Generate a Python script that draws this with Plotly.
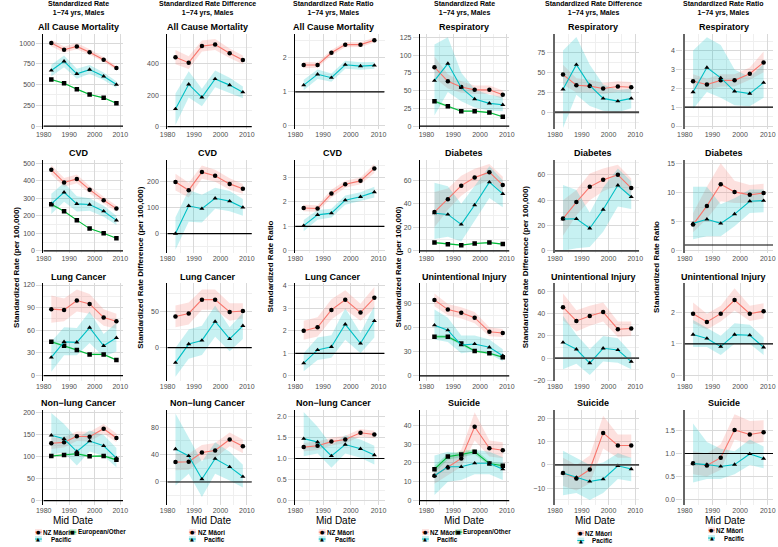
import plotly.graph_objects as go

# ---------------- data ----------------
MID_DATE = [1983, 1988, 1993, 1998, 2003.5, 2008.5]
X_TICKS = [1980, 1990, 2000, 2010]

GROUP_NAMES = ["NZ Māori", "European/Other", "Pacific"]
GROUP_COLORS = ["#F8766D", "#00BA38", "#00BFC4"]
GROUP_BANDS = ["rgba(248,118,109,0.22)", "rgba(0,186,56,0.22)", "rgba(0,191,196,0.22)"]
GROUP_SYMBOLS = ["circle", "square", "triangle-up"]
GROUP_GLYPHS = ["●", "■", "▲"]

COLUMN_HEADERS = ["Standardized Rate", "Standardized Rate Difference", "Standardized Rate Ratio"] * 2
HEADER_SUB = "1−74 yrs, Males"
Y_TITLES = ["Standardized Rate (per 100,000)", "Standardized Rate Difference (per 100,000)",
            "Standardized Rate Ratio"] * 2
ROW_CAUSES = [["All Cause Mortality", "Respiratory"], ["CVD", "Diabetes"],
              ["Lung Cancer", "Unintentional Injury"], ["Non−lung Cancer", "Suicide"]]
X_TITLE = "Mid Date"

# All cause mortality
AC_RATE_MAO = [1000, 920, 960, 890, 800, 700]
AC_RATE_MAO_LO = [960, 885, 925, 860, 775, 675]
AC_RATE_MAO_HI = [1040, 960, 1000, 925, 830, 725]
AC_RATE_PAC = [670, 780, 630, 680, 600, 500]
AC_RATE_PAC_LO = [600, 710, 570, 630, 555, 460]
AC_RATE_PAC_HI = [740, 850, 690, 735, 645, 540]
AC_RATE_EUR = [560, 515, 445, 380, 340, 275]
AC_RATE_EUR_LO = [550, 507, 438, 374, 334, 270]
AC_RATE_EUR_HI = [570, 523, 452, 386, 346, 280]
AC_DIFF_MAO = [440, 405, 510, 520, 465, 422]
AC_DIFF_MAO_LO = [395, 365, 475, 485, 435, 395]
AC_DIFF_MAO_HI = [485, 445, 545, 555, 495, 450]
AC_DIFF_PAC = [112, 268, 186, 302, 263, 218]
AC_DIFF_PAC_LO = [10, 185, 130, 250, 215, 180]
AC_DIFF_PAC_HI = [210, 350, 240, 355, 310, 255]
AC_RATIO_MAO = [1.79, 1.79, 2.15, 2.39, 2.39, 2.52]
AC_RATIO_MAO_LO = [1.70, 1.71, 2.07, 2.31, 2.32, 2.45]
AC_RATIO_MAO_HI = [1.88, 1.87, 2.23, 2.47, 2.46, 2.60]
AC_RATIO_PAC = [1.20, 1.52, 1.42, 1.80, 1.76, 1.78]
AC_RATIO_PAC_LO = [1.05, 1.38, 1.30, 1.68, 1.65, 1.68]
AC_RATIO_PAC_HI = [1.36, 1.66, 1.54, 1.92, 1.87, 1.88]

# Respiratory
RESP_RATE_MAO = [83, 63, 55, 51, 51, 44]
RESP_RATE_MAO_LO = [68, 53, 47, 45, 45, 38]
RESP_RATE_MAO_HI = [98, 73, 63, 57, 57, 50]
RESP_RATE_PAC = [64, 88, 54, 38, 32, 30]
RESP_RATE_PAC_LO = [15, 48, 35, 26, 22, 21]
RESP_RATE_PAC_HI = [115, 125, 75, 52, 44, 41]
RESP_RATE_EUR = [35, 28, 21, 21, 19, 13]
RESP_RATE_EUR_LO = [33, 26.5, 20, 20, 18, 12]
RESP_RATE_EUR_HI = [37, 29.5, 22, 22, 20, 14]
RESP_DIFF_MAO = [47.5, 34, 33, 30, 32.5, 31.5]
RESP_DIFF_MAO_LO = [35, 25, 25, 23, 26, 25]
RESP_DIFF_MAO_HI = [60, 43, 41, 37, 39, 38]
RESP_DIFF_PAC = [29, 60, 34, 17.5, 14, 17.5]
RESP_DIFF_PAC_LO = [-20, 22, 8, 2, 0, 5]
RESP_DIFF_PAC_HI = [78, 95, 60, 35, 28, 30]
RESP_RATIO_MAO = [2.37, 2.20, 2.42, 2.42, 2.77, 3.37]
RESP_RATIO_MAO_LO = [2.00, 1.90, 2.10, 2.10, 2.45, 2.85]
RESP_RATIO_MAO_HI = [2.75, 2.50, 2.75, 2.75, 3.10, 3.95]
RESP_RATIO_PAC = [1.80, 3.10, 2.55, 1.84, 1.72, 2.30]
RESP_RATIO_PAC_LO = [0.90, 1.80, 1.50, 1.10, 1.05, 1.50]
RESP_RATIO_PAC_HI = [4.00, 4.70, 4.30, 3.00, 2.60, 3.30]

# CVD
CVD_RATE_MAO = [462, 390, 410, 349, 289, 241]
CVD_RATE_MAO_LO = [435, 365, 385, 328, 270, 224]
CVD_RATE_MAO_HI = [490, 415, 435, 370, 308, 258]
CVD_RATE_PAC = [268, 334, 268, 264, 226, 174]
CVD_RATE_PAC_LO = [210, 280, 225, 228, 195, 148]
CVD_RATE_PAC_HI = [326, 388, 311, 300, 257, 200]
CVD_RATE_EUR = [266, 226, 175, 127, 100, 72]
CVD_RATE_EUR_LO = [261, 222, 172, 125, 98, 70]
CVD_RATE_EUR_HI = [271, 230, 178, 129, 102, 74]
CVD_DIFF_MAO = [197, 166, 235, 221, 190, 171]
CVD_DIFF_MAO_LO = [165, 138, 210, 198, 168, 152]
CVD_DIFF_MAO_HI = [229, 194, 260, 244, 212, 190]
CVD_DIFF_PAC = [0, 106, 95, 135, 124, 100]
CVD_DIFF_PAC_LO = [-62, 45, 42, 95, 85, 68]
CVD_DIFF_PAC_HI = [62, 167, 148, 175, 163, 132]
CVD_RATIO_MAO = [1.75, 1.73, 2.34, 2.72, 2.86, 3.37]
CVD_RATIO_MAO_LO = [1.62, 1.60, 2.18, 2.58, 2.72, 3.18]
CVD_RATIO_MAO_HI = [1.88, 1.86, 2.50, 2.86, 3.00, 3.56]
CVD_RATIO_PAC = [1.03, 1.47, 1.54, 2.07, 2.21, 2.40]
CVD_RATIO_PAC_LO = [0.80, 1.27, 1.36, 1.88, 2.03, 2.18]
CVD_RATIO_PAC_HI = [1.26, 1.67, 1.72, 2.26, 2.39, 2.62]

# Diabetes
DIAB_RATE_MAO = [33, 44, 55.5, 62.5, 67, 56]
DIAB_RATE_MAO_LO = [20, 35, 47, 55, 60, 49]
DIAB_RATE_MAO_HI = [50, 53, 64, 70, 74, 63]
DIAB_RATE_PAC = [32, 31, 22.5, 39, 58.5, 48.5]
DIAB_RATE_PAC_LO = [10, 12, 8, 25, 45, 37]
DIAB_RATE_PAC_HI = [58, 55, 40, 55, 72, 60]
DIAB_RATE_EUR = [7, 5.6, 4.8, 6.2, 7, 5.7]
DIAB_RATE_EUR_LO = [6.3, 5.0, 4.3, 5.7, 6.5, 5.2]
DIAB_RATE_EUR_HI = [7.7, 6.2, 5.3, 6.7, 7.5, 6.2]
DIAB_DIFF_MAO = [25.5, 38.5, 50.5, 56, 60, 49.5]
DIAB_DIFF_MAO_LO = [12, 28, 40, 47, 52, 42]
DIAB_DIFF_MAO_HI = [40, 48, 61, 65, 68, 57]
DIAB_DIFF_PAC = [25, 25.3, 17.8, 32.6, 51.7, 42.5]
DIAB_DIFF_PAC_LO = [0, 2, 3, 15, 35, 33]
DIAB_DIFF_PAC_HI = [52, 48, 30, 50, 65, 55]
DIAB_RATIO_MAO = [4.5, 7.7, 11.4, 10.1, 9.6, 9.9]
DIAB_RATIO_MAO_LO = [3.2, 5.5, 8.5, 8.2, 8.2, 8.5]
DIAB_RATIO_MAO_HI = [6.5, 11.0, 15.0, 12.0, 11.3, 11.5]
DIAB_RATIO_PAC = [4.7, 5.4, 4.7, 6.3, 8.5, 8.6]
DIAB_RATIO_PAC_LO = [2.0, 2.5, 2.5, 4.2, 6.5, 6.6]
DIAB_RATIO_PAC_HI = [11.0, 11.0, 8.0, 9.0, 10.5, 10.5]

# Lung cancer
LUNG_RATE_MAO = [88, 87, 99.5, 95, 77, 72]
LUNG_RATE_MAO_LO = [70, 72, 85, 82, 66, 62]
LUNG_RATE_MAO_HI = [106, 102, 114, 108, 88, 82]
LUNG_RATE_PAC = [24, 44.7, 44, 63.6, 39.5, 50]
LUNG_RATE_PAC_LO = [5, 27, 27, 43, 25, 32]
LUNG_RATE_PAC_HI = [45, 64, 63, 85, 55, 70]
LUNG_RATE_EUR = [44.7, 39.5, 33.8, 28, 28, 20.6]
LUNG_RATE_EUR_LO = [43, 38, 32.5, 27, 27, 19.6]
LUNG_RATE_EUR_HI = [46.4, 41, 35, 29, 29, 21.6]
LUNG_DIFF_MAO = [43, 47, 66, 66, 49, 50.5]
LUNG_DIFF_MAO_LO = [28, 32, 52, 52, 37, 40]
LUNG_DIFF_MAO_HI = [58, 62, 80, 80, 61, 61]
LUNG_DIFF_PAC = [-20.5, 5, 10, 36, 12, 30]
LUNG_DIFF_PAC_LO = [-40, -15, -10, 15, -5, 12]
LUNG_DIFF_PAC_HI = [0, 25, 30, 58, 28, 48]
LUNG_RATIO_MAO = [2.00, 2.16, 2.93, 3.38, 2.81, 3.47]
LUNG_RATIO_MAO_LO = [1.60, 1.75, 2.50, 2.95, 2.45, 3.00]
LUNG_RATIO_MAO_HI = [2.45, 2.60, 3.40, 3.80, 3.20, 3.95]
LUNG_RATIO_PAC = [0.56, 1.15, 1.29, 2.29, 1.44, 2.44]
LUNG_RATIO_PAC_LO = [0.20, 0.70, 0.80, 1.60, 1.00, 1.70]
LUNG_RATIO_PAC_HI = [1.00, 1.70, 1.80, 3.00, 1.90, 3.10]

# Unintentional injury
UNINT_RATE_MAO = [94, 82, 78, 72, 54.5, 53]
UNINT_RATE_MAO_LO = [86, 75, 71, 65, 49, 48]
UNINT_RATE_MAO_HI = [102, 89, 85, 79, 60, 58]
UNINT_RATE_PAC = [62.7, 56.5, 38, 39.5, 35.3, 25]
UNINT_RATE_PAC_LO = [45, 42, 28, 30, 27, 18]
UNINT_RATE_PAC_HI = [82, 72, 50, 50, 45, 33]
UNINT_RATE_EUR = [48.4, 48.4, 40, 30.7, 28, 23]
UNINT_RATE_EUR_LO = [46, 46.5, 38.3, 29.3, 26.7, 21.8]
UNINT_RATE_EUR_HI = [50.8, 50.3, 41.7, 32.1, 29.3, 24.2]
UNINT_DIFF_MAO = [45.8, 33.4, 37.9, 41.4, 26, 26.6]
UNINT_DIFF_MAO_LO = [34, 24, 29, 33, 19, 20]
UNINT_DIFF_MAO_HI = [58, 43, 47, 50, 33, 33]
UNINT_DIFF_PAC = [14.2, 8, -4.4, 8.9, 7.4, -3]
UNINT_DIFF_PAC_LO = [-10, -5, -15, -3, -4, -10]
UNINT_DIFF_PAC_HI = [38, 21, 8, 20, 18, 5]
UNINT_RATIO_MAO = [1.95, 1.69, 1.95, 2.38, 1.95, 2.03]
UNINT_RATIO_MAO_LO = [1.65, 1.45, 1.70, 2.05, 1.72, 1.80]
UNINT_RATIO_MAO_HI = [2.30, 1.95, 2.20, 2.75, 2.20, 2.28]
UNINT_RATIO_PAC = [1.29, 1.17, 0.91, 1.29, 1.27, 0.89]
UNINT_RATIO_PAC_LO = [0.90, 0.90, 0.65, 1.00, 1.00, 0.65]
UNINT_RATIO_PAC_HI = [1.75, 1.50, 1.25, 1.65, 1.60, 1.20]

# Non-lung cancer
NLC_RATE_MAO = [131, 133, 147, 146, 164, 143]
NLC_RATE_MAO_LO = [118, 121, 136, 135, 153, 133]
NLC_RATE_MAO_HI = [144, 145, 158, 157, 175, 153]
NLC_RATE_PAC = [149, 141, 112, 136, 125, 97]
NLC_RATE_PAC_LO = [105, 110, 80, 112, 102, 76]
NLC_RATE_PAC_HI = [200, 175, 142, 160, 150, 120]
NLC_RATE_EUR = [102, 104, 107, 101, 102, 93]
NLC_RATE_EUR_LO = [99.5, 101.5, 104.5, 99, 100, 91]
NLC_RATE_EUR_HI = [104.5, 106.5, 109.5, 103, 104, 95]
NLC_DIFF_MAO = [29, 29.5, 43, 46, 62, 52]
NLC_DIFF_MAO_LO = [17, 18, 32, 35, 52, 42]
NLC_DIFF_MAO_HI = [41, 41, 54, 57, 72, 62]
NLC_DIFF_PAC = [48, 38, 4.3, 34, 22, 7.7]
NLC_DIFF_PAC_LO = [-5, 12, -22, 12, 2, -8]
NLC_DIFF_PAC_HI = [100, 64, 30, 58, 44, 25]
NLC_RATIO_MAO = [1.27, 1.30, 1.40, 1.45, 1.61, 1.57]
NLC_RATIO_MAO_LO = [1.17, 1.20, 1.31, 1.36, 1.52, 1.48]
NLC_RATIO_MAO_HI = [1.37, 1.40, 1.49, 1.54, 1.70, 1.66]
NLC_RATIO_PAC = [1.47, 1.39, 1.06, 1.33, 1.23, 1.08]
NLC_RATIO_PAC_LO = [1.05, 1.12, 0.78, 1.12, 1.02, 0.86]
NLC_RATIO_PAC_HI = [2.10, 1.75, 1.32, 1.55, 1.45, 1.30]

# Suicide
SUIC_RATE_MAO = [13.2, 17.6, 22.4, 39.3, 27.8, 26.8]
SUIC_RATE_MAO_LO = [9, 13.5, 18, 32, 23.5, 22.5]
SUIC_RATE_MAO_HI = [17.5, 22, 27, 47, 32, 31]
SUIC_RATE_PAC = [13.2, 18, 18, 19.9, 19.9, 16.7]
SUIC_RATE_PAC_LO = [3, 10, 11, 14, 14, 11]
SUIC_RATE_PAC_HI = [24, 26, 25, 27, 26, 23]
SUIC_RATE_EUR = [16.7, 23.4, 24.5, 26, 19.7, 18.5]
SUIC_RATE_EUR_LO = [14.8, 21.7, 22.9, 24.5, 18.5, 17.3]
SUIC_RATE_EUR_HI = [18.6, 25.1, 26.1, 27.5, 20.9, 19.7]
SUIC_DIFF_MAO = [-3.5, -5.8, -2, 13.7, 8.3, 8.3]
SUIC_DIFF_MAO_LO = [-9, -11, -8, 7, 3, 3]
SUIC_DIFF_MAO_HI = [3, 0, 4, 21, 13, 13]
SUIC_DIFF_PAC = [-3.5, -5.4, -7.1, -6.1, -0.4, -1.8]
SUIC_DIFF_PAC_LO = [-13, -12, -15, -12, -6, -7]
SUIC_DIFF_PAC_HI = [6, 3, 0, 1, 5, 3]
SUIC_RATIO_MAO = [0.79, 0.74, 0.91, 1.51, 1.41, 1.46]
SUIC_RATIO_MAO_LO = [0.55, 0.50, 0.65, 1.30, 1.20, 1.25]
SUIC_RATIO_MAO_HI = [1.05, 1.00, 1.20, 1.85, 1.70, 1.72]
SUIC_RATIO_PAC = [0.78, 0.76, 0.72, 0.76, 0.99, 0.89]
SUIC_RATIO_PAC_LO = [0.37, 0.45, 0.45, 0.55, 0.75, 0.68]
SUIC_RATIO_PAC_HI = [1.65, 1.25, 1.10, 1.05, 1.30, 1.15]

# ---------------- assemble panels ----------------
def s3(m, mlo, mhi, e, elo, ehi, p, plo, phi):
    return [(0, m, mlo, mhi), (1, e, elo, ehi), (2, p, plo, phi)]


def s2(m, mlo, mhi, p, plo, phi):
    return [(0, m, mlo, mhi), (2, p, plo, phi)]


PANELS = [
    [s3(AC_RATE_MAO, AC_RATE_MAO_LO, AC_RATE_MAO_HI, AC_RATE_EUR, AC_RATE_EUR_LO, AC_RATE_EUR_HI, AC_RATE_PAC, AC_RATE_PAC_LO, AC_RATE_PAC_HI),
     s2(AC_DIFF_MAO, AC_DIFF_MAO_LO, AC_DIFF_MAO_HI, AC_DIFF_PAC, AC_DIFF_PAC_LO, AC_DIFF_PAC_HI),
     s2(AC_RATIO_MAO, AC_RATIO_MAO_LO, AC_RATIO_MAO_HI, AC_RATIO_PAC, AC_RATIO_PAC_LO, AC_RATIO_PAC_HI),
     s3(RESP_RATE_MAO, RESP_RATE_MAO_LO, RESP_RATE_MAO_HI, RESP_RATE_EUR, RESP_RATE_EUR_LO, RESP_RATE_EUR_HI, RESP_RATE_PAC, RESP_RATE_PAC_LO, RESP_RATE_PAC_HI),
     s2(RESP_DIFF_MAO, RESP_DIFF_MAO_LO, RESP_DIFF_MAO_HI, RESP_DIFF_PAC, RESP_DIFF_PAC_LO, RESP_DIFF_PAC_HI),
     s2(RESP_RATIO_MAO, RESP_RATIO_MAO_LO, RESP_RATIO_MAO_HI, RESP_RATIO_PAC, RESP_RATIO_PAC_LO, RESP_RATIO_PAC_HI)],
    [s3(CVD_RATE_MAO, CVD_RATE_MAO_LO, CVD_RATE_MAO_HI, CVD_RATE_EUR, CVD_RATE_EUR_LO, CVD_RATE_EUR_HI, CVD_RATE_PAC, CVD_RATE_PAC_LO, CVD_RATE_PAC_HI),
     s2(CVD_DIFF_MAO, CVD_DIFF_MAO_LO, CVD_DIFF_MAO_HI, CVD_DIFF_PAC, CVD_DIFF_PAC_LO, CVD_DIFF_PAC_HI),
     s2(CVD_RATIO_MAO, CVD_RATIO_MAO_LO, CVD_RATIO_MAO_HI, CVD_RATIO_PAC, CVD_RATIO_PAC_LO, CVD_RATIO_PAC_HI),
     s3(DIAB_RATE_MAO, DIAB_RATE_MAO_LO, DIAB_RATE_MAO_HI, DIAB_RATE_EUR, DIAB_RATE_EUR_LO, DIAB_RATE_EUR_HI, DIAB_RATE_PAC, DIAB_RATE_PAC_LO, DIAB_RATE_PAC_HI),
     s2(DIAB_DIFF_MAO, DIAB_DIFF_MAO_LO, DIAB_DIFF_MAO_HI, DIAB_DIFF_PAC, DIAB_DIFF_PAC_LO, DIAB_DIFF_PAC_HI),
     s2(DIAB_RATIO_MAO, DIAB_RATIO_MAO_LO, DIAB_RATIO_MAO_HI, DIAB_RATIO_PAC, DIAB_RATIO_PAC_LO, DIAB_RATIO_PAC_HI)],
    [s3(LUNG_RATE_MAO, LUNG_RATE_MAO_LO, LUNG_RATE_MAO_HI, LUNG_RATE_EUR, LUNG_RATE_EUR_LO, LUNG_RATE_EUR_HI, LUNG_RATE_PAC, LUNG_RATE_PAC_LO, LUNG_RATE_PAC_HI),
     s2(LUNG_DIFF_MAO, LUNG_DIFF_MAO_LO, LUNG_DIFF_MAO_HI, LUNG_DIFF_PAC, LUNG_DIFF_PAC_LO, LUNG_DIFF_PAC_HI),
     s2(LUNG_RATIO_MAO, LUNG_RATIO_MAO_LO, LUNG_RATIO_MAO_HI, LUNG_RATIO_PAC, LUNG_RATIO_PAC_LO, LUNG_RATIO_PAC_HI),
     s3(UNINT_RATE_MAO, UNINT_RATE_MAO_LO, UNINT_RATE_MAO_HI, UNINT_RATE_EUR, UNINT_RATE_EUR_LO, UNINT_RATE_EUR_HI, UNINT_RATE_PAC, UNINT_RATE_PAC_LO, UNINT_RATE_PAC_HI),
     s2(UNINT_DIFF_MAO, UNINT_DIFF_MAO_LO, UNINT_DIFF_MAO_HI, UNINT_DIFF_PAC, UNINT_DIFF_PAC_LO, UNINT_DIFF_PAC_HI),
     s2(UNINT_RATIO_MAO, UNINT_RATIO_MAO_LO, UNINT_RATIO_MAO_HI, UNINT_RATIO_PAC, UNINT_RATIO_PAC_LO, UNINT_RATIO_PAC_HI)],
    [s3(NLC_RATE_MAO, NLC_RATE_MAO_LO, NLC_RATE_MAO_HI, NLC_RATE_EUR, NLC_RATE_EUR_LO, NLC_RATE_EUR_HI, NLC_RATE_PAC, NLC_RATE_PAC_LO, NLC_RATE_PAC_HI),
     s2(NLC_DIFF_MAO, NLC_DIFF_MAO_LO, NLC_DIFF_MAO_HI, NLC_DIFF_PAC, NLC_DIFF_PAC_LO, NLC_DIFF_PAC_HI),
     s2(NLC_RATIO_MAO, NLC_RATIO_MAO_LO, NLC_RATIO_MAO_HI, NLC_RATIO_PAC, NLC_RATIO_PAC_LO, NLC_RATIO_PAC_HI),
     s3(SUIC_RATE_MAO, SUIC_RATE_MAO_LO, SUIC_RATE_MAO_HI, SUIC_RATE_EUR, SUIC_RATE_EUR_LO, SUIC_RATE_EUR_HI, SUIC_RATE_PAC, SUIC_RATE_PAC_LO, SUIC_RATE_PAC_HI),
     s2(SUIC_DIFF_MAO, SUIC_DIFF_MAO_LO, SUIC_DIFF_MAO_HI, SUIC_DIFF_PAC, SUIC_DIFF_PAC_LO, SUIC_DIFF_PAC_HI),
     s2(SUIC_RATIO_MAO, SUIC_RATIO_MAO_LO, SUIC_RATIO_MAO_HI, SUIC_RATIO_PAC, SUIC_RATIO_PAC_LO, SUIC_RATIO_PAC_HI)],
]

# ---------------- layout constants ----------------
W, H = 778, 547
FONT = "Liberation Sans, Arial, sans-serif"
COL_PX = [(36, 117), (162, 248), (292, 383), (419, 510), (556, 642), (688, 778)]
ROW_PX = [(33, 129), (160, 254), (284, 383), (412, 508)]
X_RANGES = [(1979.9, 2011.1), (1979.9, 2011.9), (1979.9, 2012.2),
            (1977.6, 2011.0), (1979.9, 2011.5), (1979.9, 2011.9)]
Y_RANGES = [
    [(-36, 1112), (-15, 588), (-0.09, 2.71), (-4.2, 130), (-21.2, 99), (-0.16, 4.89)],
    [(-13, 519), (-75, 282), (-0.095, 3.72), (-2, 77.5), (-1.8, 71.8), (-0.4, 15.6)],
    [(-7.5, 122.8), (-46, 89), (-0.24, 4.13), (-6.6, 115), (-20.6, 67.5), (-0.18, 2.92)],
    [(-10.6, 206.8), (-34, 105), (-0.11, 2.15), (-2.5, 48.2), (-17.3, 23.5), (-0.12, 1.94)],
]
Y_DTICK = [
    [250, 200, 1, 25, 25, 1],
    [100, 100, 1, 20, 20, 5],
    [30, 50, 1, 30, 20, 1],
    [50, 40, 0.5, 10, 10, 0.5],
]
REF_VALUE = [0, 0, 1, 0, 0, 1]
TITLE_CX = [72, 203, 331, 464, 595, 728]
XTITLE_CX = [66, 206, 334, 464, 597, 729]
YTITLE_X = [8, 134, 266, 397, 526, 659]
ROW_TITLE_Y = [26.5, 153.5, 278.5, 404.5]

GRID = "#d9d9d9"
MINOR = "#efefef"


def px(x):
    return x / W


def py(y):
    return 1 - y / H


fig = go.Figure()

for r in range(4):
    for c in range(6):
        n = r * 6 + c + 1
        xa = "x" if n == 1 else f"x{n}"
        ya = "y" if n == 1 else f"y{n}"
        series = PANELS[r][c]
        for g, est, lo, hi in series:
            fig.add_trace(go.Scatter(
                x=MID_DATE + MID_DATE[::-1], y=hi + lo[::-1], fill="toself",
                fillcolor=GROUP_BANDS[g], line=dict(width=0), mode="lines",
                hoverinfo="skip", showlegend=False, xaxis=xa, yaxis=ya))
        for g, est, lo, hi in series:
            fig.add_trace(go.Scatter(
                x=MID_DATE, y=est, mode="lines+markers", name=GROUP_NAMES[g],
                line=dict(color=GROUP_COLORS[g], width=1.1),
                marker=dict(symbol=GROUP_SYMBOLS[g], color="black", size=4.5),
                showlegend=False, xaxis=xa, yaxis=ya))

        dt = Y_DTICK[r][c]
        right_side = c in (4, 5)
        fig.layout["xaxis" if n == 1 else f"xaxis{n}"] = dict(
            domain=[px(COL_PX[c][0]), px(COL_PX[c][1])], range=list(X_RANGES[c]),
            anchor=ya, tickmode="array", tickvals=X_TICKS, showgrid=True,
            gridcolor=GRID, gridwidth=1, zeroline=False, showline=False, ticks="",
            minor=dict(tickmode="array", tickvals=[1985, 1995, 2005], showgrid=True,
                       gridcolor=MINOR, gridwidth=1),
            tickfont=dict(size=7, color="#4d4d4d", family=FONT))
        fig.layout["yaxis" if n == 1 else f"yaxis{n}"] = dict(
            domain=[py(ROW_PX[r][1]), py(ROW_PX[r][0])], range=list(Y_RANGES[r][c]),
            anchor=xa, tickmode="linear", tick0=0, dtick=dt,
            tickformat=".1f" if dt == 0.5 else "",
            showgrid=True, gridcolor=GRID, gridwidth=1, zeroline=False,
            minor=dict(tickmode="linear", tick0=0, dtick=dt / 2, showgrid=True,
                       gridcolor=MINOR, gridwidth=1),
            showline=True, linecolor="#666666" if right_side else "black",
            linewidth=2.2 if right_side else 1.2,
            ticks="outside", ticklen=6, tickcolor=GRID,
            tickfont=dict(size=7, color="#4d4d4d", family=FONT))
        fig.add_shape(type="line", xref=xa, yref=ya,
                      x0=X_RANGES[c][0], x1=X_RANGES[c][1],
                      y0=REF_VALUE[c], y1=REF_VALUE[c], layer="above",
                      line=dict(color="#444444" if c == 4 else "black",
                                width=1.8 if c == 4 else 1.2))
        # panel title
        fig.add_annotation(text="<b>" + ROW_CAUSES[r][c // 3] + "</b>", x=px(TITLE_CX[c]),
                           y=py(ROW_TITLE_Y[r]), xref="paper", yref="paper",
                           showarrow=False, xanchor="center", yanchor="middle",
                           font=dict(size=9, color="black", family=FONT))

# column headers, y titles, x titles
for c in range(6):
    fig.add_annotation(text="<b>" + COLUMN_HEADERS[c] + "<br>" + HEADER_SUB + "</b>",
                       x=px(TITLE_CX[c]), y=py(7.5), xref="paper", yref="paper",
                       showarrow=False, xanchor="center", yanchor="middle",
                       font=dict(size=7, color="black", family=FONT))
    fig.add_annotation(text="<b>" + Y_TITLES[c] + "</b>", textangle=-90,
                       x=px(YTITLE_X[c]), y=py(268), xref="paper", yref="paper",
                       showarrow=False, xanchor="center", yanchor="middle",
                       font=dict(size=8, color="black", family=FONT))
    fig.add_annotation(text=X_TITLE, x=px(XTITLE_CX[c]), y=py(523), xref="paper",
                       yref="paper", showarrow=False, xanchor="center", yanchor="middle",
                       font=dict(size=10, color="black", family=FONT))

# legends (one per column) built from the group definitions
LEGEND_ITEMS = [
    [(0, 31, 35, 535), (1, 66, 70, 535), (2, 31, 43, 542)],
    [(0, 187.5, 192, 535), (2, 187.5, 198, 542)],
    [(0, 319.5, 323, 535), (2, 319.5, 332, 542)],
    [(0, 424.5, 428, 535), (1, 458.5, 462, 535), (2, 424.5, 435, 542)],
    [(0, 582.5, 586, 536), (2, 582.5, 593, 543.5)],
    [(0, 715.5, 719, 533), (2, 715.5, 727, 541)],
]
for items in LEGEND_ITEMS:
    for g, kx, lx, ly in items:
        fig.add_shape(type="rect", xref="paper", yref="paper",
                      x0=px(kx - 3.5), x1=px(kx + 3.5), y0=py(ly + 3), y1=py(ly - 3),
                      fillcolor=GROUP_BANDS[g], line=dict(width=0))
        fig.add_shape(type="line", xref="paper", yref="paper",
                      x0=px(kx - 3.5), x1=px(kx + 3.5), y0=py(ly), y1=py(ly),
                      line=dict(color=GROUP_COLORS[g], width=1))
        fig.add_annotation(text=GROUP_GLYPHS[g], x=px(kx), y=py(ly), xref="paper",
                           yref="paper", showarrow=False, xanchor="center",
                           yanchor="middle", borderpad=0,
                           font=dict(size=5, color="black", family="DejaVu Sans"))
        fig.add_annotation(text="<b>" + GROUP_NAMES[g] + "</b>", x=px(lx), y=py(ly),
                           xref="paper", yref="paper", showarrow=False, xanchor="left",
                           yanchor="middle", borderpad=0,
                           font=dict(size=6.3, color="black", family=FONT))

fig.update_layout(width=W, height=H, margin=dict(l=0, r=0, t=0, b=0),
                  paper_bgcolor="white", plot_bgcolor="white", showlegend=False,
                  font=dict(family=FONT))

fig.write_html("out.html", config={"displayModeBar": False},
               post_script="document.body.style.margin='0px';"
                           "document.body.style.overflow='hidden';")
